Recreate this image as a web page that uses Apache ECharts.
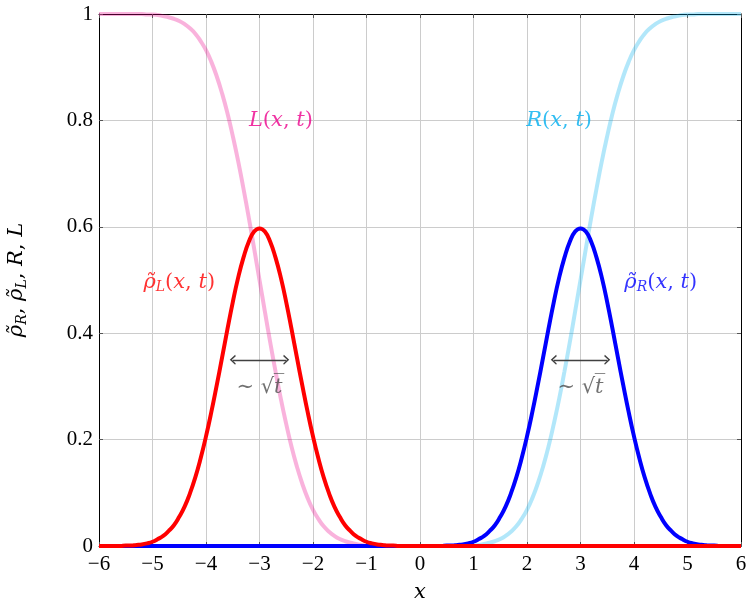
<!DOCTYPE html>
<html>
<head>
<meta charset="utf-8">
<script src="https://cdn.jsdelivr.net/npm/echarts@6/dist/echarts.min.js"></script>
<style>
  html, body { margin: 0; padding: 0; background: #fff; }
  #chart { width: 746px; height: 601px; }
</style>
</head>
<body>
<div id="chart"></div>
<script>
// x samples, step 0.1
const xs = [
  -6, -5.9, -5.8, -5.7, -5.6, -5.5, -5.4, -5.3, -5.2, -5.1,
  -5, -4.9, -4.8, -4.7, -4.6, -4.5, -4.4, -4.3, -4.2, -4.1,
  -4, -3.9, -3.8, -3.7, -3.6, -3.5, -3.4, -3.3, -3.2, -3.1,
  -3, -2.9, -2.8, -2.7, -2.6, -2.5, -2.4, -2.3, -2.2, -2.1,
  -2, -1.9, -1.8, -1.7, -1.6, -1.5, -1.4, -1.3, -1.2, -1.1,
  -1, -0.9, -0.8, -0.7, -0.6, -0.5, -0.4, -0.3, -0.2, -0.1,
  0, 0.1, 0.2, 0.3, 0.4, 0.5, 0.6, 0.7, 0.8, 0.9,
  1, 1.1, 1.2, 1.3, 1.4, 1.5, 1.6, 1.7, 1.8, 1.9,
  2, 2.1, 2.2, 2.3, 2.4, 2.5, 2.6, 2.7, 2.8, 2.9,
  3, 3.1, 3.2, 3.3, 3.4, 3.5, 3.6, 3.7, 3.8, 3.9,
  4, 4.1, 4.2, 4.3, 4.4, 4.5, 4.6, 4.7, 4.8, 4.9,
  5, 5.1, 5.2, 5.3, 5.4, 5.5, 5.6, 5.7, 5.8, 5.9,
  6]

// rho_L(x,t)
const rhoL = [
  0, 0, 0, 0, 0, 0.001, 0.001, 0.002, 0.003, 0.005,
  0.008, 0.013, 0.019, 0.028, 0.039, 0.055, 0.074, 0.099, 0.129, 0.165,
  0.206, 0.252, 0.302, 0.354, 0.407, 0.458, 0.504, 0.542, 0.572, 0.591,
  0.597, 0.591, 0.572, 0.542, 0.504, 0.458, 0.407, 0.354, 0.302, 0.252,
  0.206, 0.165, 0.129, 0.099, 0.074, 0.055, 0.039, 0.028, 0.019, 0.013,
  0.008, 0.005, 0.003, 0.002, 0.001, 0.001, 0, 0, 0, 0,
  0, 0, 0, 0, 0, 0, 0, 0, 0, 0,
  0, 0, 0, 0, 0, 0, 0, 0, 0, 0,
  0, 0, 0, 0, 0, 0, 0, 0, 0, 0,
  0, 0, 0, 0, 0, 0, 0, 0, 0, 0,
  0, 0, 0, 0, 0, 0, 0, 0, 0, 0,
  0, 0, 0, 0, 0, 0, 0, 0, 0, 0,
  0]

// rho_R(x,t)
const rhoR = [
  0, 0, 0, 0, 0, 0, 0, 0, 0, 0,
  0, 0, 0, 0, 0, 0, 0, 0, 0, 0,
  0, 0, 0, 0, 0, 0, 0, 0, 0, 0,
  0, 0, 0, 0, 0, 0, 0, 0, 0, 0,
  0, 0, 0, 0, 0, 0, 0, 0, 0, 0,
  0, 0, 0, 0, 0, 0, 0, 0, 0, 0,
  0, 0, 0, 0, 0, 0.001, 0.001, 0.002, 0.003, 0.005,
  0.008, 0.013, 0.019, 0.028, 0.039, 0.055, 0.074, 0.099, 0.129, 0.165,
  0.206, 0.252, 0.302, 0.354, 0.407, 0.458, 0.504, 0.542, 0.572, 0.591,
  0.597, 0.591, 0.572, 0.542, 0.504, 0.458, 0.407, 0.354, 0.302, 0.252,
  0.206, 0.165, 0.129, 0.099, 0.074, 0.055, 0.039, 0.028, 0.019, 0.013,
  0.008, 0.005, 0.003, 0.002, 0.001, 0.001, 0, 0, 0, 0,
  0]

// L(x,t)
const Lx = [
  1, 1, 1, 1, 1, 1, 1, 1, 1, 0.999,
  0.999, 0.998, 0.996, 0.994, 0.991, 0.987, 0.981, 0.973, 0.963, 0.949,
  0.932, 0.910, 0.883, 0.851, 0.814, 0.771, 0.724, 0.672, 0.617, 0.559,
  0.5, 0.441, 0.383, 0.328, 0.276, 0.229, 0.186, 0.149, 0.117, 0.090,
  0.068, 0.051, 0.037, 0.027, 0.019, 0.013, 0.009, 0.006, 0.004, 0.002,
  0.001, 0.001, 0, 0, 0, 0, 0, 0, 0, 0,
  0, 0, 0, 0, 0, 0, 0, 0, 0, 0,
  0, 0, 0, 0, 0, 0, 0, 0, 0, 0,
  0, 0, 0, 0, 0, 0, 0, 0, 0, 0,
  0, 0, 0, 0, 0, 0, 0, 0, 0, 0,
  0, 0, 0, 0, 0, 0, 0, 0, 0, 0,
  0, 0, 0, 0, 0, 0, 0, 0, 0, 0,
  0]

// R(x,t)
const Rx = [
  0, 0, 0, 0, 0, 0, 0, 0, 0, 0,
  0, 0, 0, 0, 0, 0, 0, 0, 0, 0,
  0, 0, 0, 0, 0, 0, 0, 0, 0, 0,
  0, 0, 0, 0, 0, 0, 0, 0, 0, 0,
  0, 0, 0, 0, 0, 0, 0, 0, 0, 0,
  0, 0, 0, 0, 0, 0, 0, 0, 0, 0,
  0, 0, 0, 0, 0, 0, 0, 0, 0, 0.001,
  0.001, 0.002, 0.004, 0.006, 0.009, 0.013, 0.019, 0.027, 0.037, 0.051,
  0.068, 0.090, 0.117, 0.149, 0.186, 0.229, 0.276, 0.328, 0.383, 0.441,
  0.5, 0.559, 0.617, 0.672, 0.724, 0.771, 0.814, 0.851, 0.883, 0.910,
  0.932, 0.949, 0.963, 0.973, 0.981, 0.987, 0.991, 0.994, 0.996, 0.998,
  0.999, 0.999, 1, 1, 1, 1, 1, 1, 1, 1,
  1]

const xTicks = [-6, -5, -4, -3, -2, -1, 0, 1, 2, 3, 4, 5, 6]
const yTicks = [0, 0.2, 0.4, 0.6, 0.8, 1]

const serif = "'Liberation Serif', 'DejaVu Serif', serif"
const mathFont = "'DejaVu Serif', serif"
const pairs = vals => xs.map((x, i) => [x, vals[i]])

// rich text styles for the math labels
function mathRich (color) {
  return {
    g: { fontFamily: mathFont, fontStyle: 'italic', fontSize: 21, color: color },
    i: { fontFamily: mathFont, fontStyle: 'italic', fontSize: 21, color: color },
    n: { fontFamily: mathFont, fontSize: 21, color: color },
    sub: { fontFamily: mathFont, fontStyle: 'italic', fontSize: 14, color: color, padding: [10, 0, 0, 0] }
  }
}

const chevron = 'path://M5,0 L10,9 L8.6,10 L5,3.6 L1.4,10 L0,9 Z'

const myChart = echarts.init(document.getElementById('chart'))

const axisFont = { fontFamily: serif, fontSize: 21, color: '#000' }

myChart.setOption({
  animation: false,
  grid: { left: 99, right: 5, top: 14, bottom: 55, outerBoundsMode: 'none', containLabel: false },
  xAxis: [
    {
      type: 'value', min: -6, max: 6, interval: 1,
      name: 'x', nameLocation: 'middle', nameGap: 36,
      nameTextStyle: { fontFamily: mathFont, fontStyle: 'italic', fontSize: 21, color: '#000' },
      axisLine: { onZero: false, lineStyle: { color: '#000', width: 1 } },
      axisTick: { inside: true, length: 4, lineStyle: { color: '#555' } },
      axisLabel: Object.assign({ margin: 8, formatter: v => xTicks.includes(v) ? (v < 0 ? '\u2212' + (-v) : String(v)) : '' }, axisFont),
      splitLine: { show: true, lineStyle: { color: '#cccccc', width: 1 } }
    },
    {
      type: 'value', min: -6, max: 6, interval: 1, position: 'top',
      axisLine: { onZero: false, lineStyle: { color: '#000', width: 1 } },
      axisTick: { inside: true, length: 4, lineStyle: { color: '#555' } },
      axisLabel: { show: false },
      splitLine: { show: false }
    }
  ],
  yAxis: [
    {
      type: 'value', min: 0, max: 1, interval: 0.2,
      name: '{g|ρ̃}{sub|R}{n|, }{g|ρ̃}{sub|L}{n|, }{i|R}{n|, }{i|L}',
      nameLocation: 'middle', nameGap: 70, nameRotate: 90,
      nameTextStyle: { rich: mathRich('#000') },
      axisLine: { onZero: false, lineStyle: { color: '#000', width: 1 } },
      axisTick: { inside: true, length: 4, lineStyle: { color: '#555' } },
      axisLabel: Object.assign({ margin: 6, formatter: v => yTicks.includes(+v.toFixed(1)) ? String(+v.toFixed(1)) : '' }, axisFont),
      splitLine: { show: true, lineStyle: { color: '#cccccc', width: 1 } }
    },
    {
      type: 'value', min: 0, max: 1, interval: 0.2, position: 'right',
      axisLine: { onZero: false, lineStyle: { color: '#000', width: 1 } },
      axisTick: { inside: true, length: 4, lineStyle: { color: '#555' } },
      axisLabel: { show: false },
      splitLine: { show: false }
    }
  ],
  series: [
    {
      name: 'L', type: 'line', data: pairs(Lx), smooth: true, showSymbol: false, z: 2,
      lineStyle: { color: '#EC008C', width: 4, opacity: 0.3 }
    },
    {
      name: 'R', type: 'line', data: pairs(Rx), smooth: true, showSymbol: false, z: 2,
      lineStyle: { color: '#00AEEF', width: 4, opacity: 0.3 }
    },
    {
      name: 'rhoR', type: 'line', data: pairs(rhoR), smooth: true, showSymbol: false, z: 3,
      lineStyle: { color: '#0000ff', width: 4 }
    },
    {
      name: 'rhoL', type: 'line', data: pairs(rhoL), smooth: true, showSymbol: false, z: 4,
      lineStyle: { color: '#ff0000', width: 4 },
      markLine: {
        silent: true,
        symbol: [chevron, chevron],
        symbolSize: [10, 6],
        label: { show: false },
        lineStyle: { color: '#404040', width: 1.4, type: 'solid' },
        data: [
          [{ coord: [-3.5, 0.35] }, { coord: [-2.5, 0.35] }],
          [{ coord: [2.5, 0.35] }, { coord: [3.5, 0.35] }]
        ]
      }
    },
    {
      name: 'notes', type: 'scatter', symbolSize: 0, silent: true, z: 5,
      label: { show: true, position: 'inside' },
      data: [
        { value: [-2.6, 0.8], label: { formatter: '{i|L}{n|(}{i|x}{n|, }{i|t}{n|)}', rich: mathRich('#EC008C') } },
        { value: [2.6, 0.8], label: { formatter: '{i|R}{n|(}{i|x}{n|, }{i|t}{n|)}', rich: mathRich('#00AEEF') } },
        { value: [-4.5, 0.495], label: { formatter: '{g|ρ̃}{sub|L}{n|(}{i|x}{n|, }{i|t}{n|)}', rich: mathRich('#ff0000') } },
        { value: [4.5, 0.495], label: { formatter: '{g|ρ̃}{sub|R}{n|(}{i|x}{n|, }{i|t}{n|)}', rich: mathRich('#0000ff') } },
        { value: [-3, 0.297], label: { formatter: '{n|∼ √}{i|t̅}', rich: mathRich('#4d4d4d') } },
        { value: [3, 0.297], label: { formatter: '{n|∼ √}{i|t̅}', rich: mathRich('#4d4d4d') } }
      ]
    }
  ]
})
</script>
</body>
</html>
